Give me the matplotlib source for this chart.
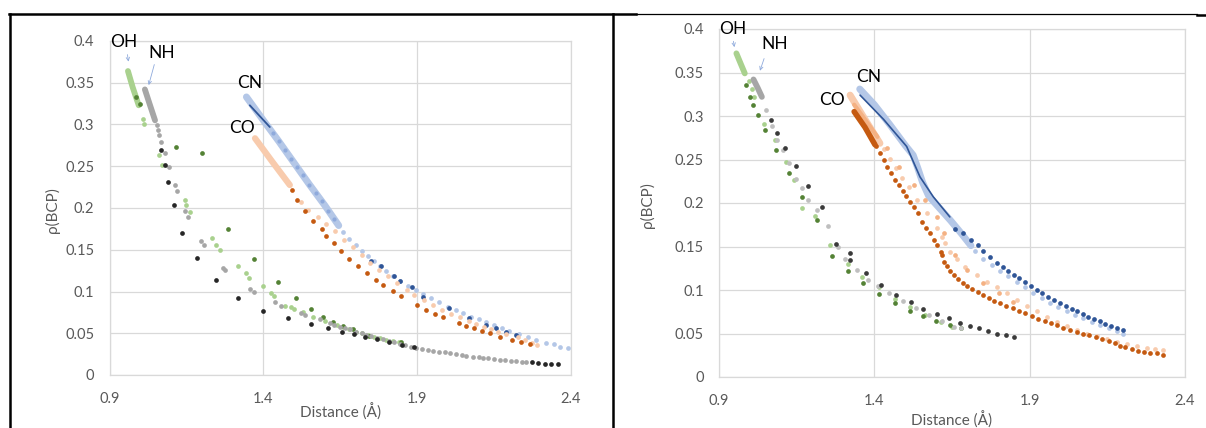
import matplotlib
matplotlib.use("Agg")
import matplotlib.pyplot as plt
from matplotlib.lines import Line2D

plt.rcParams['font.family'] = ['Lato', 'DejaVu Sans']

# ---------------- data: left panel ----------------
L_oh_band_x = [0.960, 0.975, 0.995]
L_oh_band_y = [0.364, 0.345, 0.323]
L_oh_light_x = [1.008, 1.012, 1.061, 1.071, 1.147, 1.150, 1.162, 1.233, 1.247, 1.259, 1.318, 1.344, 1.353,
                1.400, 1.424, 1.435, 1.469, 1.490, 1.501, 1.530, 1.560, 1.600, 1.640, 1.660, 1.680, 1.700,
                1.720, 1.740, 1.760, 1.780, 1.800, 1.820, 1.840]
L_oh_light_y = [0.306, 0.300, 0.263, 0.252, 0.209, 0.203, 0.195, 0.164, 0.156, 0.150, 0.131, 0.122, 0.116,
                0.106, 0.098, 0.095, 0.083, 0.081, 0.079, 0.075, 0.070, 0.065, 0.060, 0.057, 0.055, 0.052,
                0.050, 0.048, 0.046, 0.044, 0.042, 0.041, 0.039]
L_oh_dark_x = [0.987, 0.998, 1.116, 1.201, 1.286, 1.370, 1.447, 1.507, 1.555, 1.594, 1.627, 1.659, 1.691,
               1.745, 1.849]
L_oh_dark_y = [0.333, 0.325, 0.273, 0.266, 0.175, 0.139, 0.111, 0.092, 0.079, 0.070, 0.064, 0.059, 0.055,
               0.047, 0.039]

L_nh_band_x = [1.015, 1.030, 1.048]
L_nh_band_y = [0.342, 0.325, 0.305]
L_nh_gray_x = [1.053, 1.058, 1.062, 1.066, 1.079, 1.093, 1.113, 1.118, 1.145, 1.156, 1.198, 1.207, 1.270,
               1.277, 1.356, 1.369, 1.437, 1.456, 1.524, 1.535, 1.583, 1.616, 1.630, 1.650, 1.665, 1.681,
               1.700, 1.720, 1.735, 1.750, 1.770, 1.789, 1.810, 1.825, 1.843, 1.860, 1.880, 1.897, 1.915,
               1.935, 1.951, 1.970, 1.990, 2.006, 2.025, 2.045, 2.060, 2.080, 2.100, 2.114, 2.130, 2.150,
               2.168, 2.185, 2.205, 2.222, 2.240, 2.255]
L_nh_gray_y = [0.299, 0.293, 0.287, 0.279, 0.266, 0.249, 0.228, 0.220, 0.196, 0.189, 0.161, 0.156, 0.128,
               0.126, 0.103, 0.099, 0.088, 0.083, 0.074, 0.072, 0.067, 0.062, 0.060, 0.058, 0.056, 0.0547,
               0.052, 0.050, 0.048, 0.0465, 0.0445, 0.0427, 0.0405, 0.039, 0.037, 0.0355, 0.034, 0.0323,
               0.031, 0.030, 0.029, 0.028, 0.027, 0.026, 0.025, 0.024, 0.023, 0.022, 0.0213, 0.0207, 0.020,
               0.019, 0.0183, 0.0177, 0.017, 0.0164, 0.0158, 0.0152]
L_nh_dark_x = [1.069, 1.080, 1.091, 1.110, 1.137, 1.183, 1.246, 1.319, 1.399, 1.479, 1.554, 1.610, 1.655,
               1.694, 1.730, 1.770, 1.810, 1.850, 1.890, 2.274, 2.292, 2.314, 2.336, 2.357]
L_nh_dark_y = [0.269, 0.251, 0.231, 0.203, 0.170, 0.140, 0.114, 0.092, 0.077, 0.068, 0.061, 0.056, 0.052,
               0.049, 0.046, 0.043, 0.040, 0.036, 0.033, 0.0152, 0.014, 0.0135, 0.0132, 0.0128]

L_cn_band_x = [1.345, 1.400, 1.450, 1.500, 1.550, 1.600, 1.645]
L_cn_band_y = [0.333, 0.305, 0.280, 0.254, 0.228, 0.203, 0.179]
L_cn_line_x = [1.356, 1.421]
L_cn_line_y = [0.323, 0.297]
L_cn_mid_x = [1.430, 1.450, 1.470, 1.490, 1.510, 1.530, 1.550, 1.570, 1.590, 1.610, 1.630]
L_cn_mid_y = [0.290, 0.280, 0.270, 0.259, 0.249, 0.239, 0.228, 0.218, 0.208, 0.197, 0.187]
L_cn_light_x = [1.660, 1.680, 1.700, 1.720, 1.740, 1.760, 1.780, 1.800, 1.820, 1.845, 1.870, 1.895, 1.920,
                1.945, 1.970, 2.000, 2.025, 2.050, 2.075, 2.100, 2.125, 2.150, 2.175, 2.200, 2.230, 2.260,
                2.287, 2.319, 2.346, 2.363, 2.390]
L_cn_light_y = [0.171, 0.163, 0.156, 0.149, 0.1425, 0.136, 0.130, 0.1245, 0.119, 0.1125, 0.107, 0.1015,
                0.097, 0.092, 0.0875, 0.0815, 0.078, 0.074, 0.070, 0.0665, 0.063, 0.0595, 0.056, 0.053,
                0.0495, 0.045, 0.042, 0.0387, 0.0368, 0.034, 0.032]
L_cn_dark_x = [1.751, 1.784, 1.824, 1.843, 1.884, 1.919, 2.005, 2.070, 2.125, 2.157, 2.190, 2.222]
L_cn_dark_y = [0.1365, 0.130, 0.118, 0.112, 0.105, 0.094, 0.080, 0.068, 0.060, 0.056, 0.052, 0.048]

L_co_band_x = [1.373, 1.430, 1.486]
L_co_band_y = [0.2835, 0.255, 0.2275]
L_co_light_x = [1.523, 1.546, 1.578, 1.605, 1.633, 1.662, 1.691, 1.720, 1.748, 1.777, 1.806, 1.835, 1.867,
                1.890, 1.921, 1.951, 1.980, 2.009, 2.040, 2.067, 2.090, 2.118, 2.140, 2.163, 2.190, 2.228,
                2.250, 2.273, 2.290]
L_co_light_y = [0.207, 0.198, 0.189, 0.181, 0.172, 0.1615, 0.153, 0.1436, 0.134, 0.126, 0.118, 0.110, 0.102,
                0.096, 0.090, 0.084, 0.078, 0.073, 0.069, 0.065, 0.061, 0.058, 0.055, 0.052, 0.049, 0.045,
                0.042, 0.038, 0.036]
L_co_dark_x = [1.494, 1.510, 1.536, 1.563, 1.591, 1.604, 1.629, 1.651, 1.680, 1.707, 1.736, 1.765, 1.790,
               1.820, 1.848, 1.900, 1.929, 1.958, 1.983, 2.035, 2.060, 2.086, 2.112, 2.138, 2.170, 2.208,
               2.238, 2.266]
L_co_dark_y = [0.2213, 0.210, 0.196, 0.185, 0.175, 0.167, 0.158, 0.149, 0.139, 0.131, 0.122, 0.114, 0.108,
               0.101, 0.0945, 0.084, 0.078, 0.073, 0.069, 0.062, 0.059, 0.056, 0.053, 0.050, 0.046, 0.042,
               0.039, 0.037]

# ---------------- data: right panel ----------------
R_oh_band_x = [0.956, 0.970, 0.983]
R_oh_band_y = [0.372, 0.360, 0.349]
R_oh_light_x = [0.995, 1.005, 1.014, 1.044, 1.081, 1.115, 1.140, 1.167, 1.210, 1.256, 1.314, 1.360, 1.414,
                1.467, 1.515, 1.564, 1.613, 1.650]
R_oh_light_y = [0.340, 0.331, 0.322, 0.291, 0.272, 0.247, 0.227, 0.194, 0.185, 0.152, 0.130, 0.115, 0.103,
                0.090, 0.080, 0.071, 0.063, 0.057]
R_oh_dark_x = [0.987, 0.999, 1.011, 1.026, 1.048, 1.084, 1.124, 1.168, 1.216, 1.265, 1.314, 1.364, 1.416,
               1.466, 1.515, 1.558, 1.600, 1.643, 1.679]
R_oh_dark_y = [0.336, 0.322, 0.313, 0.301, 0.284, 0.261, 0.234, 0.207, 0.181, 0.139, 0.122, 0.108, 0.095,
               0.085, 0.076, 0.070, 0.064, 0.060, 0.056]

R_nh_band_x = [1.011, 1.025, 1.038]
R_nh_band_y = [0.342, 0.332, 0.322]
R_nh_gray_x = [1.050, 1.069, 1.087, 1.106, 1.124, 1.148, 1.167, 1.185, 1.216, 1.252, 1.283, 1.307, 1.344,
               1.381, 1.411, 1.448, 1.491, 1.534, 1.577, 1.619, 1.656, 1.680]
R_nh_gray_y = [0.307, 0.288, 0.272, 0.261, 0.246, 0.228, 0.217, 0.204, 0.192, 0.173, 0.150, 0.136, 0.123,
               0.111, 0.105, 0.096, 0.087, 0.079, 0.071, 0.064, 0.058, 0.056]
R_nh_dark_x = [1.066, 1.087, 1.114, 1.148, 1.187, 1.230, 1.277, 1.322, 1.322, 1.372, 1.421, 1.470, 1.518,
               1.558, 1.603, 1.640, 1.676, 1.708, 1.738, 1.767, 1.796, 1.824, 1.849]
R_nh_dark_y = [0.295, 0.281, 0.263, 0.242, 0.219, 0.195, 0.153, 0.142, 0.135, 0.120, 0.106, 0.094, 0.0858,
               0.078, 0.0724, 0.0674, 0.0624, 0.0586, 0.056, 0.0529, 0.050, 0.048, 0.046]

R_cn_band_x = [1.353, 1.400, 1.450, 1.500, 1.525, 1.540, 1.555, 1.575, 1.610, 1.645, 1.680, 1.711]
R_cn_band_y = [0.331, 0.313, 0.290, 0.266, 0.255, 0.240, 0.224, 0.208, 0.194, 0.180, 0.165, 0.151]
R_cn_line_x = [1.354, 1.430, 1.504, 1.547, 1.590, 1.643]
R_cn_line_y = [0.324, 0.296, 0.265, 0.230, 0.207, 0.184]
R_cn_light_x = [1.697, 1.725, 1.751, 1.780, 1.804, 1.830, 1.858, 1.885, 1.912, 1.940, 1.965, 1.990, 2.019,
                2.045, 2.073, 2.100, 2.126, 2.155, 2.180, 2.199]
R_cn_light_y = [0.1555, 0.145, 0.136, 0.129, 0.122, 0.116, 0.1096, 0.103, 0.096, 0.091, 0.0854, 0.080,
                0.0759, 0.0715, 0.0674, 0.0635, 0.0598, 0.056, 0.0529, 0.050]
R_cn_dark_x = [1.660, 1.686, 1.710, 1.734, 1.751, 1.772, 1.794, 1.815, 1.831, 1.849, 1.867, 1.885, 1.903,
               1.923, 1.940, 1.960, 1.978, 1.998, 2.017, 2.035, 2.053, 2.071, 2.089, 2.108, 2.126, 2.143,
               2.161, 2.180, 2.199]
R_cn_dark_y = [0.170, 0.165, 0.158, 0.152, 0.145, 0.138, 0.131, 0.127, 0.122, 0.117, 0.1134, 0.109, 0.1046,
               0.100, 0.0962, 0.0923, 0.0885, 0.0847, 0.0816, 0.0782, 0.0755, 0.0724, 0.0693, 0.0667, 0.064,
               0.061, 0.0586, 0.056, 0.054]

R_co_band_x = [1.322, 1.370, 1.418]
R_co_band_y = [0.324, 0.296, 0.2686]
R_co_midband_x = [1.335, 1.370, 1.410]
R_co_midband_y = [0.313, 0.296, 0.276]
R_co_darkband_x = [1.335, 1.370, 1.402]
R_co_darkband_y = [0.305, 0.287, 0.267]
R_co_light_x = [1.430, 1.450, 1.470, 1.490, 1.510, 1.536, 1.568, 1.601, 1.617, 1.627, 1.643, 1.665, 1.692,
                1.729, 1.762, 1.794, 1.826, 1.858, 1.890, 1.923, 1.955, 1.987, 2.019, 2.051, 2.083, 2.116,
                2.148, 2.180, 2.212, 2.244, 2.277, 2.303, 2.330]
R_co_light_y = [0.262, 0.251, 0.240, 0.229, 0.218, 0.2034, 0.188, 0.171, 0.161, 0.154, 0.144, 0.136, 0.1268,
                0.117, 0.1095, 0.103, 0.096, 0.0885, 0.0816, 0.0759, 0.0693, 0.0636, 0.0586, 0.054, 0.050,
                0.0471, 0.044, 0.0406, 0.038, 0.0356, 0.0337, 0.032, 0.031]
R_co_mid_x = [1.440, 1.479, 1.528, 1.564, 1.601, 1.623, 1.660, 1.699, 1.750, 1.800, 1.846]
R_co_mid_y = [0.263, 0.2416, 0.2205, 0.203, 0.184, 0.165, 0.140, 0.1227, 0.108, 0.096, 0.086]
R_co_dark_x = [1.405, 1.418, 1.430, 1.442, 1.454, 1.466, 1.479, 1.491, 1.503, 1.515, 1.528, 1.541, 1.552,
               1.566, 1.579, 1.592, 1.603, 1.614, 1.619, 1.624, 1.633, 1.643, 1.656, 1.670, 1.684, 1.699,
               1.715, 1.735, 1.751, 1.769, 1.786, 1.804, 1.824, 1.847, 1.867, 1.885, 1.906, 1.926, 1.949,
               1.969, 1.989, 2.008, 2.030, 2.051, 2.073, 2.092, 2.113, 2.134, 2.156, 2.175, 2.191, 2.207,
               2.228, 2.250, 2.268, 2.287, 2.309, 2.330]
R_co_dark_y = [0.265, 0.257, 0.249, 0.241, 0.234, 0.227, 0.2205, 0.214, 0.208, 0.201, 0.1955, 0.188, 0.1785,
               0.171, 0.165, 0.158, 0.152, 0.144, 0.140, 0.1325, 0.1276, 0.122, 0.117, 0.1126, 0.1084,
               0.1046, 0.1008, 0.0974, 0.0942, 0.0912, 0.0877, 0.0847, 0.0816, 0.079, 0.0759, 0.0732,
               0.0701, 0.067, 0.0647, 0.0617, 0.0594, 0.0567, 0.054, 0.052, 0.050, 0.0483, 0.0463, 0.044,
               0.041, 0.0387, 0.036, 0.034, 0.0318, 0.0299, 0.029, 0.028, 0.0272, 0.0256]

x_ticks = [0.9, 1.4, 1.9, 2.4]
y_ticks = [0, 0.05, 0.1, 0.15, 0.2, 0.25, 0.3, 0.35, 0.4]
y_ticklabels = ['0', '0.05', '0.1', '0.15', '0.2', '0.25', '0.3', '0.35', '0.4']

GREEN_L, GREEN_D = '#a9d18e', '#548235'
GRAY_L, GRAY_D = '#a6a6a6', '#262626'
BLUE_L, BLUE_M, BLUE_D = '#b4c7e7', '#8faadc', '#2f5597'
ORANGE_L, ORANGE_M, ORANGE_D = '#f8cbad', '#f4b183', '#c55a11'
TXT = '#595959'
ARROW = '#8faadc'


def dots(ax, x, y, c, ms=3.4):
    ax.plot(x, y, 'o', ms=ms, color=c, mec='none', zorder=3)


def band(ax, x, y, c, lw=4.2):
    ax.plot(x, y, '-', lw=lw, color=c, solid_capstyle='round', zorder=3)


def style(ax, xlab_y, ylab_x):
    ax.set_xlim(0.9, 2.4)
    ax.set_ylim(0, 0.4)
    ax.set_xticks(x_ticks)
    ax.set_xticklabels([str(v) for v in x_ticks])
    ax.set_yticks(y_ticks)
    ax.set_yticklabels(y_ticklabels)
    ax.grid(True, color='#d9d9d9', lw=0.9, zorder=0)
    ax.set_axisbelow(True)
    for s in ax.spines.values():
        s.set_color('#d9d9d9')
        s.set_linewidth(0.9)
    ax.tick_params(length=0, labelsize=10.5, labelcolor=TXT)
    ax.tick_params(axis='x', pad=12)
    ax.tick_params(axis='y', pad=11)
    ax.set_xlabel('Distance (Å)', fontsize=11, color=TXT, va='top')
    ax.set_ylabel('ρ(BCP)', fontsize=11, color=TXT)
    ax.xaxis.set_label_coords(0.5, xlab_y)
    ax.yaxis.set_label_coords(ylab_x, 0.494)


def label(ax, s, x, y):
    ax.text(x, y, s, fontsize=12.5, color='black', ha='center', va='center', clip_on=False, zorder=5)


def arrow(ax, start, end):
    ax.annotate('', xy=end, xytext=start,
                arrowprops=dict(arrowstyle='->', color=ARROW, lw=0.6, mutation_scale=6),
                annotation_clip=False)


fig = plt.figure(figsize=(12.06, 4.28), dpi=100)
axL = fig.add_axes([109.5 / 1206, 1 - 375 / 428, 461.5 / 1206, 334 / 428])
axR = fig.add_axes([719 / 1206, 1 - 377 / 428, 466 / 1206, 348 / 428])

# left panel
band(axL, L_oh_band_x, L_oh_band_y, GREEN_L)
dots(axL, L_oh_light_x, L_oh_light_y, GREEN_L)
dots(axL, L_oh_dark_x, L_oh_dark_y, GREEN_D)
band(axL, L_nh_band_x, L_nh_band_y, GRAY_L)
dots(axL, L_nh_gray_x, L_nh_gray_y, GRAY_L)
dots(axL, L_nh_dark_x, L_nh_dark_y, GRAY_D)
band(axL, L_cn_band_x, L_cn_band_y, BLUE_L, lw=5)
band(axL, L_cn_line_x, L_cn_line_y, BLUE_D, lw=1.3)
dots(axL, L_cn_mid_x, L_cn_mid_y, BLUE_M, ms=3.0)
dots(axL, L_cn_light_x, L_cn_light_y, BLUE_L)
dots(axL, L_cn_dark_x, L_cn_dark_y, BLUE_D)
band(axL, L_co_band_x, L_co_band_y, ORANGE_L, lw=4.5)
dots(axL, L_co_light_x, L_co_light_y, ORANGE_L)
dots(axL, L_co_dark_x, L_co_dark_y, ORANGE_D)
label(axL, 'OH', 0.945, 0.399)
label(axL, 'NH', 1.069, 0.386)
label(axL, 'CN', 1.355, 0.350)
label(axL, 'CO', 1.332, 0.296)
arrow(axL, (0.957, 0.387), (0.963, 0.372))
arrow(axL, (1.048, 0.375), (1.025, 0.344))
style(axL, -0.085, -0.107)

# right panel
band(axR, R_oh_band_x, R_oh_band_y, GREEN_L)
dots(axR, R_oh_light_x, R_oh_light_y, GREEN_L)
dots(axR, R_oh_dark_x, R_oh_dark_y, GREEN_D)
band(axR, R_nh_band_x, R_nh_band_y, GRAY_L)
dots(axR, R_nh_gray_x, R_nh_gray_y, '#bfbfbf')
dots(axR, R_nh_dark_x, R_nh_dark_y, '#3a3a3a')
band(axR, R_cn_band_x, R_cn_band_y, BLUE_L, lw=5)
band(axR, R_cn_line_x, R_cn_line_y, BLUE_D, lw=1.2)
dots(axR, R_cn_light_x, R_cn_light_y, BLUE_L)
dots(axR, R_cn_dark_x, R_cn_dark_y, BLUE_D)
band(axR, R_co_band_x, R_co_band_y, ORANGE_L, lw=5)
band(axR, R_co_midband_x, R_co_midband_y, ORANGE_M, lw=3)
band(axR, R_co_darkband_x, R_co_darkband_y, ORANGE_D, lw=4)
dots(axR, R_co_light_x, R_co_light_y, ORANGE_L)
dots(axR, R_co_mid_x, R_co_mid_y, ORANGE_M)
dots(axR, R_co_dark_x, R_co_dark_y, ORANGE_D)
label(axR, 'OH', 0.945, 0.400)
label(axR, 'NH', 1.080, 0.383)
label(axR, 'CN', 1.383, 0.345)
label(axR, 'CO', 1.264, 0.318)
arrow(axR, (0.945, 0.389), (0.951, 0.376))
arrow(axR, (1.048, 0.369), (1.029, 0.349))
style(axR, -0.098, -0.137)

# panel borders


def fx(px):
    return px / 1206


def fy(py):
    return 1 - py / 428


fig.add_artist(Line2D([fx(9), fx(636)], [fy(14), fy(14)], color='black', lw=1.8))
fig.add_artist(Line2D([fx(9.5), fx(9.5)], [fy(14), fy(428)], color='black', lw=1.8))
fig.add_artist(Line2D([fx(613), fx(613)], [fy(14), fy(428)], color='black', lw=1.8))
fig.add_artist(Line2D([fx(636), fx(1197)], [fy(13.5), fy(13.5)], color='black', lw=0.9))
fig.add_artist(Line2D([fx(1197), fx(1206)], [fy(14.5), fy(14.5)], color='black', lw=1.8))

fig.savefig('out.png', dpi=100)
